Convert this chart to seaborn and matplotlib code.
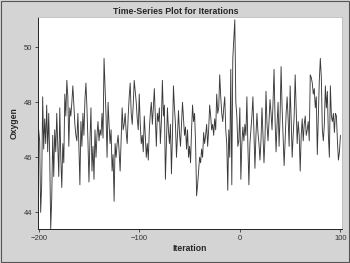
import numpy as np
import pandas as pd
import seaborn as sns
import matplotlib
matplotlib.use("Agg")
import matplotlib.pyplot as plt
from matplotlib.patches import Rectangle

iterations = list(range(-200, 101))
oxygen = [
    47.0, 46.6, 44.0, 45.0, 48.2, 46.3, 47.4, 46.5, 47.9, 46.2,
    47.6, 46.0, 43.4, 44.5, 46.8, 45.3, 47.0, 46.2, 47.6, 46.4,
    45.3, 47.8, 46.0, 44.9, 46.5, 45.8, 48.3, 47.5, 48.8, 48.2,
    46.4, 47.8, 47.5, 48.0, 48.6, 47.9, 47.2, 46.8, 46.6, 47.6,
    46.4, 45.0, 47.3, 46.4, 47.6, 46.8, 48.1, 48.7, 47.8, 46.6,
    45.1, 46.6, 47.8, 45.5, 46.4, 45.2, 47.0, 46.0, 46.8, 47.3,
    46.6, 47.0, 46.8, 47.6, 46.7, 49.6, 48.5, 47.5, 46.0, 48.0,
    47.2, 46.5, 47.0, 45.5, 46.1, 44.4, 46.5, 46.0, 46.5, 46.8,
    46.2, 45.5, 46.7, 47.8, 47.0, 47.2, 47.6, 46.9, 46.5, 47.5,
    48.2, 48.7, 47.6, 47.2, 47.9, 48.8, 48.4, 48.0, 47.4, 47.0,
    48.3, 47.2, 46.5, 46.8, 46.2, 47.5, 46.8, 46.0, 46.5, 45.9,
    47.0, 47.6, 48.0, 47.2, 47.8, 48.5, 47.5, 46.4, 47.6, 47.3,
    47.8, 46.5, 47.3, 48.8, 47.5, 47.9, 45.2, 46.5, 47.8, 47.0,
    46.5, 47.2, 45.4, 46.8, 48.6, 47.8, 47.2, 46.0, 46.8, 47.7,
    46.9, 46.4, 47.2, 48.0, 47.4, 46.8, 47.1, 46.3, 47.0, 46.0,
    46.4, 45.8, 47.0, 47.9, 47.3, 47.6, 46.5, 44.6, 45.0, 45.5,
    46.0, 45.8, 46.3, 46.0, 46.9, 46.5, 46.8, 47.2, 46.4, 47.0,
    47.9, 47.5, 47.0, 47.2, 46.8, 47.4, 47.0, 48.3, 47.6, 47.8,
    49.0, 48.2, 47.6, 47.3, 47.8, 48.2, 47.0, 46.5, 44.8, 47.0,
    46.0, 49.2, 45.0, 49.6, 50.3, 51.0, 48.0, 47.5, 46.4, 46.6,
    47.8, 45.2, 46.5, 47.1, 46.6, 47.2, 46.8, 48.2, 46.4, 45.0,
    46.5, 47.0, 47.5, 48.2, 46.9, 45.6, 46.8, 47.6, 46.9, 46.5,
    45.9, 46.6, 47.8, 46.8, 45.8, 46.7, 48.4, 47.2, 46.6, 47.3,
    48.1, 47.6, 47.0, 48.0, 49.2, 47.4, 46.2, 47.2, 48.0, 46.4,
    47.5, 49.3, 47.8, 46.8, 45.7, 46.6, 47.6, 48.2, 47.4, 46.4,
    48.6, 47.4, 46.0, 46.8, 47.5, 49.0, 47.8, 46.5, 47.3, 46.8,
    45.5, 46.8, 47.4, 46.6, 47.2, 47.5, 46.8, 47.0, 47.3, 46.6,
    49.0, 48.9, 48.7, 48.3, 48.5, 47.8, 48.2, 46.1, 47.5, 48.8,
    49.6, 48.9, 47.0, 46.6, 47.2, 48.6, 47.8, 48.4, 46.8, 46.0,
    48.6, 47.5, 47.3, 47.6, 46.9, 47.6, 47.5, 46.6, 45.9, 46.2, 46.8,
]
x_ticks = [-200, -100, 0, 100]
y_ticks = [44, 46, 48, 50]

df = pd.DataFrame({"Iteration": iterations, "Oxygen": oxygen})

sns.set_style("white")
plt.rcParams["font.family"] = ["Liberation Sans", "DejaVu Sans"]

fig = plt.figure(figsize=(3.5, 2.63), dpi=100)
fig.patch.set_facecolor("#d4d4d4")
fig.patches.append(Rectangle((0.003, 0.004), 0.994, 0.992, transform=fig.transFigure,
                             fill=False, edgecolor="#555555", linewidth=0.8))
ax = fig.add_axes([0.109, 0.129, 0.868, 0.806])
ax.set_facecolor("white")

sns.lineplot(data=df, x="Iteration", y="Oxygen", ax=ax, color="#3a3a3a",
             linewidth=0.65, estimator=None)

ax.set_xlim(-200.5, 101.5)
ax.set_ylim(43.39, 51.1)
ax.set_xticks(x_ticks)
ax.set_yticks(y_ticks)
ax.tick_params(axis="both", labelsize=5.5, length=2.5, width=0.6, colors="#333333",
               direction="out", bottom=True, left=True, pad=1.5)
for s in ["top", "right"]:
    ax.spines[s].set_visible(True)
    ax.spines[s].set_color("#bbbbbb")
    ax.spines[s].set_linewidth(0.6)
for s in ["left", "bottom"]:
    ax.spines[s].set_color("#222222")
    ax.spines[s].set_linewidth(0.7)

ax.set_xlabel("Iteration", fontsize=6.2, fontweight="bold", labelpad=2)
ax.set_ylabel("Oxygen", fontsize=6.2, fontweight="bold", labelpad=4)
fig.text(0.501, 0.955, "Time-Series Plot for Iterations", ha="center", va="center",
         fontsize=6.3, fontweight="bold")

fig.savefig("out.png", dpi=100, facecolor=fig.get_facecolor())
